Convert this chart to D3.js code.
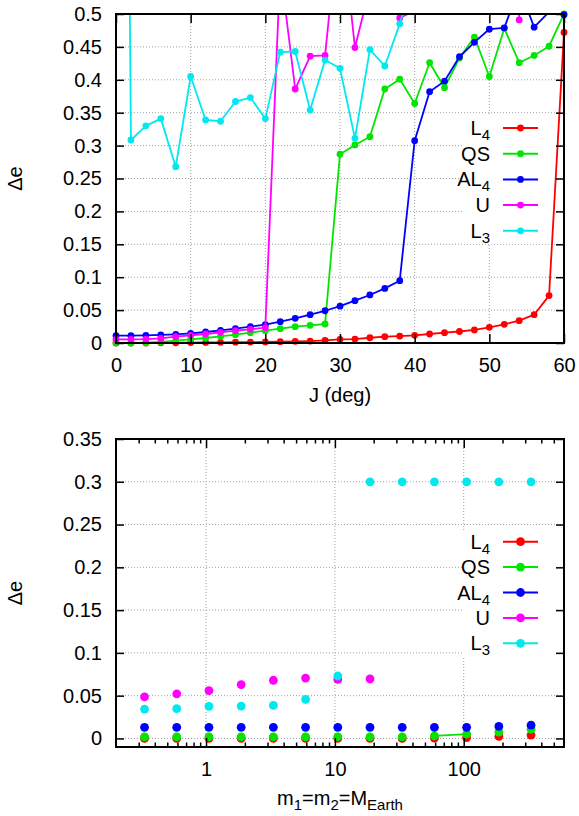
<!DOCTYPE html>
<html>
<head>
<meta charset="utf-8">
<script src="https://cdn.jsdelivr.net/npm/d3@7"></script>
<style>
  body { margin: 0; background: #fff; }
  svg { display: block; font-family: "Liberation Sans", Arial, sans-serif; }
</style>
</head>
<body>
<svg id="chart" width="579" height="816"></svg>
<script>
// ---- top panel: delta e against inclination J (deg) ----
const incl = [0, 2, 4, 6, 8, 10, 12, 14, 16, 18, 20, 22, 24, 26, 28, 30,
  32, 34, 36, 38, 40, 42, 44, 46, 48, 50, 52, 54, 56, 58, 60];
const topL4 = [0, 0, 0, 0.0002, 0.0004, 0.0006, 0.0008, 0.001, 0.0012, 0.0014, 0.0016,
  0.002, 0.0025, 0.003, 0.004, 0.0056, 0.006, 0.008, 0.0096, 0.0106, 0.0117,
  0.0137, 0.0157, 0.0175, 0.0198, 0.0238, 0.0284, 0.034, 0.043, 0.072, 0.472];
const topQS = [0, 0, 0.0005, 0.0015, 0.0035, 0.0056, 0.0076, 0.0101, 0.0127, 0.0157, 0.0187,
  0.0218, 0.0248, 0.0268, 0.0289, 0.287, 0.301, 0.3135, 0.386, 0.401, 0.364,
  0.426, 0.388, 0.433, 0.465, 0.405, 0.478, 0.426, 0.437, 0.451, 0.5];
const topAL4 = [0.0111, 0.0111, 0.0117, 0.0122, 0.0132, 0.0147, 0.0167, 0.0193, 0.0218, 0.0248, 0.0278,
  0.0324, 0.0375, 0.043, 0.049, 0.056, 0.0643, 0.073, 0.083, 0.0947, 0.3075,
  0.382, 0.398, 0.435, 0.457, 0.477, 0.479, 0.54, 0.48, 0.503, 0.499];
const topU = [0.0056, 0.0056, 0.006, 0.007, 0.0096, 0.0117, 0.0137, 0.0162, 0.0187, 0.0208, 0.0233,
  0.57, 0.386, 0.436, 0.437, 0.66, 0.449, 0.54, 0.6, 0.494, 0.505,
  null, null, null, null, null, 3, 0.491, 3, null, null];
const topL3 = [3, 0.3085, 0.33, 0.341, 0.268, 0.405, 0.339, 0.337, 0.367, 0.373, 0.341,
  0.442, 0.443, 0.354, 0.43, 0.4175, 0.311, 0.446, 0.421, 0.485, 0.56,
  null, null, null, null, null, null, null, null, null, null];

// ---- bottom panel: delta e against planet mass (Earth masses) ----
const mass = [0.333, 0.592, 1.053, 1.873, 3.33, 5.92, 10.53, 18.73, 33.3, 59.2, 105.3, 187.3, 333];
const botL4 = [0, 0, 0, 0, 0, 0, 0, 0, 0, 0.0005, 0.001, 0.0025, 0.004];
const botQS = [0.0018, 0.0018, 0.0018, 0.0018, 0.0018, 0.0018, 0.0018, 0.0018, 0.0018, 0.003, 0.005, 0.0074, 0.0108];
const botAL4 = [0.013, 0.013, 0.013, 0.013, 0.013, 0.013, 0.013, 0.013, 0.013, 0.013, 0.013, 0.014, 0.0155];
const botU = [0.0487, 0.052, 0.056, 0.063, 0.068, 0.0706, 0.069, 0.0695];
const botL3 = [0.0343, 0.0348, 0.0375, 0.0378, 0.0386, 0.0456, 0.073, 0.3, 0.3, 0.3, 0.3, 0.3, 0.3];
const botQSJoined = [9, 10]; // the only two points joined by a line

const seriesLabels = [['L', '4'], ['QS', ''], ['AL', '4'], ['U', ''], ['L', '3']];
const seriesColors = ['#ff0000', '#00e600', '#0000ff', '#ff00ff', '#00e8f0'];

const topXTicks = [0, 10, 20, 30, 40, 50, 60];
const topYTicks = [0, 0.05, 0.1, 0.15, 0.2, 0.25, 0.3, 0.35, 0.4, 0.45, 0.5];
const botXTicks = [1, 10, 100];
const botXMinor = [0.3, 0.4, 0.5, 0.6, 0.7, 0.8, 0.9, 2, 3, 4, 5, 6, 7, 8, 9,
  20, 30, 40, 50, 60, 70, 80, 90, 200, 300, 400, 500];
const botYTicks = [0, 0.05, 0.1, 0.15, 0.2, 0.25, 0.3, 0.35];

const svg = d3.select('#chart');
const fmt = d3.format('~g');
const FONT = 20;

function drawGrid(g, x, y, w, h, xTicks, yTicks) {
  // dotted grid
  g.append('g').selectAll('line').data(xTicks.filter(t => x(t) > 1 && x(t) < w - 1)).enter()
    .append('line')
    .attr('x1', d => x(d)).attr('x2', d => x(d)).attr('y1', 0).attr('y2', h)
    .attr('stroke', '#a0a0a0').attr('stroke-width', 1).attr('stroke-dasharray', '1,2');
  g.append('g').selectAll('line').data(yTicks.filter(t => y(t) > 1 && y(t) < h - 1)).enter()
    .append('line')
    .attr('x1', 0).attr('x2', w).attr('y1', d => y(d)).attr('y2', d => y(d))
    .attr('stroke', '#a0a0a0').attr('stroke-width', 1).attr('stroke-dasharray', '1,2');
}

function drawAxes(g, x, y, w, h, xTicks, yTicks, xMinor) {
  const style = a => {
    a.select('.domain').remove();
    a.attr('font-size', FONT).attr('font-family', null);
    a.selectAll('line').attr('stroke-width', 1.5);
  };
  g.append('g').attr('transform', 'translate(0,' + h + ')')
    .call(d3.axisBottom(x).tickValues(xTicks).tickSize(-9).tickPadding(15).tickFormat(fmt))
    .call(style);
  g.append('g')
    .call(d3.axisTop(x).tickValues(xTicks).tickSize(-9).tickFormat(''))
    .call(style);
  if (xMinor) {
    g.append('g').attr('transform', 'translate(0,' + h + ')')
      .call(d3.axisBottom(x).tickValues(xMinor).tickSize(-4.5).tickFormat(''))
      .call(style);
    g.append('g')
      .call(d3.axisTop(x).tickValues(xMinor).tickSize(-4.5).tickFormat(''))
      .call(style);
  }
  g.append('g')
    .call(d3.axisLeft(y).tickValues(yTicks).tickSize(-8).tickPadding(14).tickFormat(fmt))
    .call(style);
  g.append('g').attr('transform', 'translate(' + w + ',0)')
    .call(d3.axisRight(y).tickValues(yTicks).tickSize(-8).tickFormat(''))
    .call(style);
  g.selectAll('text').attr('fill', '#000');
  g.append('rect').attr('width', w).attr('height', h)
    .attr('fill', 'none').attr('stroke', '#000').attr('stroke-width', 2);
}

function subText(sel, main, sub, rest) {
  sel.append('tspan').text(main);
  if (sub) {
    sel.append('tspan').attr('font-size', FONT * 0.75).attr('dy', 5).text(sub);
    if (rest) sel.append('tspan').attr('dy', -5).text(rest);
  }
}

function drawLegend(g, x0, y0, step, r) {
  seriesLabels.forEach((lab, i) => {
    const yy = y0 + i * step;
    const t = g.append('text').attr('x', x0).attr('y', yy + 7)
      .attr('text-anchor', 'end').attr('font-size', FONT).attr('fill', '#000');
    subText(t, lab[0], lab[1]);
    g.append('line').attr('x1', x0 + 13).attr('x2', x0 + 48).attr('y1', yy).attr('y2', yy)
      .attr('stroke', seriesColors[i]).attr('stroke-width', 2);
    g.append('circle').attr('cx', x0 + 30.5).attr('cy', yy).attr('r', r)
      .attr('fill', seriesColors[i]);
  });
}

// ================= top panel =================
{
  const left = 116, top = 14, w = 448, h = 329;
  const x = d3.scaleLinear().domain([0, 60]).range([0, w]);
  const y = d3.scaleLinear().domain([0, 0.5]).range([h, 0]);
  const g = svg.append('g').attr('transform', 'translate(' + left + ',' + top + ')');
  g.append('clipPath').attr('id', 'clipTop').append('rect').attr('width', w).attr('height', h);
  drawGrid(g, x, y, w, h, topXTicks, topYTicks);
  // opaque key box
  g.append('rect').attr('x', 346).attr('y', 101).attr('width', 94).attr('height', 129).attr('fill', '#fff');

  const series = [topL4, topQS, topAL4, topU, topL3];
  const line = d3.line().defined(d => d[1] != null).x(d => x(d[0])).y(d => y(d[1]));
  series.forEach((vals, i) => {
    const pts = incl.map((j, k) => [j, vals[k]]);
    g.append('path').datum(pts).attr('d', line).attr('clip-path', 'url(#clipTop)')
      .attr('fill', 'none').attr('stroke', seriesColors[i]).attr('stroke-width', 1.8)
      .attr('stroke-linejoin', 'round');
    g.append('g').selectAll('circle')
      .data(pts.filter(p => p[1] != null && p[1] >= 0 && p[1] <= 0.5)).enter()
      .append('circle').attr('cx', d => x(d[0])).attr('cy', d => y(d[1])).attr('r', 3.4)
      .attr('fill', seriesColors[i]);
  });
  drawAxes(g, x, y, w, h, topXTicks, topYTicks);
  drawLegend(svg, 490, 128, 25.7, 3.4);

  svg.append('text').attr('x', left + w / 2).attr('y', 402).attr('text-anchor', 'middle')
    .attr('font-size', FONT).text('J (deg)');
  svg.append('text').attr('transform', 'translate(22,' + (top + h / 2) + ') rotate(-90)')
    .attr('text-anchor', 'middle').attr('font-size', FONT).text('Δe');
}

// ================= bottom panel =================
{
  const left = 116, top = 439, w = 448, h = 308;
  const x = d3.scaleLog().domain([0.2, 600]).range([0, w]);
  const y = d3.scaleLinear().domain([-0.01, 0.35]).range([h, 0]);
  const g = svg.append('g').attr('transform', 'translate(' + left + ',' + top + ')');
  drawGrid(g, x, y, w, h, botXTicks, botYTicks);
  g.append('rect').attr('x', 346).attr('y', 91).attr('width', 94).attr('height', 127).attr('fill', '#fff');

  const series = [botL4, botQS, botAL4, botU, botL3];
  series.forEach((vals, i) => {
    const pts = vals.map((v, k) => [mass[k], v]);
    if (i === 1) {
      g.append('line')
        .attr('x1', x(mass[botQSJoined[0]])).attr('y1', y(vals[botQSJoined[0]]))
        .attr('x2', x(mass[botQSJoined[1]])).attr('y2', y(vals[botQSJoined[1]]))
        .attr('stroke', seriesColors[i]).attr('stroke-width', 1.8);
    }
    g.append('g').selectAll('circle').data(pts).enter()
      .append('circle').attr('cx', d => x(d[0])).attr('cy', d => y(d[1])).attr('r', 4.4)
      .attr('fill', seriesColors[i]);
  });
  drawAxes(g, x, y, w, h, botXTicks, botYTicks, botXMinor);
  drawLegend(svg, 490, 541.7, 25.4, 4.4);

  const t = svg.append('text').attr('x', left + w / 2).attr('y', 805).attr('text-anchor', 'middle')
    .attr('font-size', FONT);
  subText(t, 'm', '1', '=m');
  t.append('tspan').attr('font-size', FONT * 0.75).attr('dy', 5).text('2');
  t.append('tspan').attr('dy', -5).text('=M');
  t.append('tspan').attr('font-size', FONT * 0.75).attr('dy', 5).text('Earth');
  svg.append('text').attr('transform', 'translate(22,' + (top + h / 2) + ') rotate(-90)')
    .attr('text-anchor', 'middle').attr('font-size', FONT).text('Δe');
}
</script>
</body>
</html>
